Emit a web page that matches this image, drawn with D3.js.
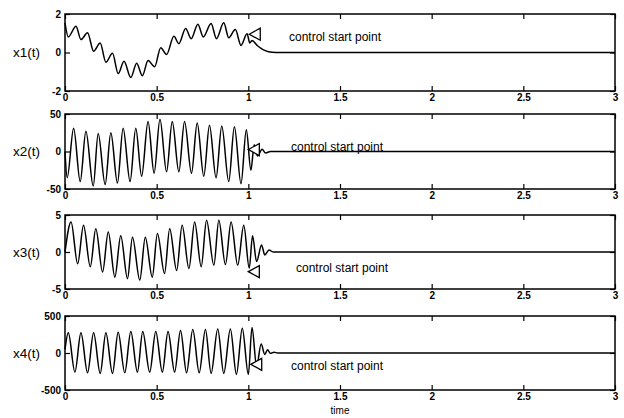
<!DOCTYPE html>
<html>
<head>
<meta charset="utf-8">
<script src="https://cdn.jsdelivr.net/npm/d3@7"></script>
<style>
  body { margin: 0; background: #fff; }
  text { font-family: Arial, "Liberation Sans", sans-serif; fill: #000; }
</style>
</head>
<body>
<svg id="chart" width="624" height="418"></svg>
<script>
// extrema, [time, value]
const x1 = [[0,1.54],[0.018,0.81],[0.060,1.37],[0.087,0.67],[0.123,1.02],[0.156,0.07],[0.192,0.49],
  [0.223,-0.51],[0.259,-0.04],[0.290,-1.09],[0.322,-0.46],[0.359,-1.30],[0.391,-0.56],[0.422,-1.21],
  [0.453,-0.42],[0.489,-0.74],[0.522,0.25],[0.554,-0.10],[0.594,0.84],[0.621,0.46],[0.658,1.25],
  [0.688,0.72],[0.725,1.47],[0.754,0.81],[0.797,1.51],[0.826,0.72],[0.866,1.54],[0.893,0.77],
  [0.929,1.19],[0.960,0.37],[0.993,0.98],[1.008,0.5],[1.02,0.62],[1.05,0.35],[1.08,0.15],
  [1.11,0.04],[1.15,0],[3,0]];

const x2 = [[0,0],[0.012,-35],[0.047,31],[0.083,-40],[0.114,27],[0.154,-46],[0.181,24],[0.219,-44],
  [0.250,25],[0.286,-42],[0.317,31],[0.355,-40],[0.386,31],[0.418,-33],[0.453,40],[0.486,-29],
  [0.518,43],[0.554,-27],[0.585,40],[0.621,-27],[0.652,40],[0.690,-29],[0.721,38],[0.757,-33],
  [0.788,35],[0.824,-35],[0.855,34],[0.893,-40],[0.924,33],[0.960,-43],[0.989,29],[1.014,-25],
  [1.032,9],[1.05,-6],[1.075,3],[1.094,-2],[1.12,0],[3,0]];

const x3 = [[0,0],[0.033,4.05],[0.069,-1.6],[0.101,3.6],[0.138,-2.0],[0.168,3.15],[0.205,-2.7],
  [0.236,2.7],[0.272,-3.4],[0.304,2.2],[0.341,-3.6],[0.368,2.0],[0.408,-3.8],[0.438,2.0],
  [0.476,-3.4],[0.504,2.5],[0.543,-2.9],[0.571,3.15],[0.609,-2.5],[0.639,3.6],[0.676,-2.25],
  [0.707,4.05],[0.743,-2.0],[0.772,4.3],[0.812,-1.8],[0.839,4.3],[0.875,-1.7],[0.906,4.05],
  [0.942,-1.8],[0.975,3.6],[1.005,-2.2],[1.023,2.2],[1.045,-1.3],[1.072,0.95],[1.09,-0.4],
  [1.113,0.27],[1.135,0],[3,0]];

const x4 = [[0,50],[0.018,272],[0.054,-258],[0.087,272],[0.123,-267],[0.156,272],[0.192,-276],
  [0.223,272],[0.259,-276],[0.290,281],[0.326,-267],[0.359,290],[0.395,-258],[0.424,290],
  [0.462,-258],[0.495,290],[0.531,-258],[0.562,290],[0.598,-258],[0.630,304],[0.663,-267],
  [0.697,317],[0.732,-267],[0.766,317],[0.797,-276],[0.833,326],[0.866,-276],[0.902,326],
  [0.935,-290],[0.967,336],[1.0,-290],[1.02,345],[1.045,-180],[1.07,120],[1.09,-20],
  [1.105,45],[1.12,-5],[1.14,10],[1.16,0],[3,0]];

const timeTicks = [0, 0.5, 1, 1.5, 2, 2.5, 3];
const noteText = 'control start point';

const panels = [
  { name: 'x1(t)', data: x1, domain: [-2, 2], ticks: [-2, 0, 2], top: 14, h: 77, mark: [1.005, 0.95], note: [289, 37] },
  { name: 'x2(t)', data: x2, domain: [-50, 50], ticks: [-50, 0, 50], top: 114, h: 75, mark: [1.0, 2.6], note: [291, 147] },
  { name: 'x3(t)', data: x3, domain: [-5, 5], ticks: [-5, 0, 5], top: 215, h: 74, mark: [1.0, -2.66], note: [296, 268] },
  { name: 'x4(t)', data: x4, domain: [-500, 500], ticks: [-500, 0, 500], top: 316, h: 74, mark: [1.013, -153], note: [291, 366] }
];

const svg = d3.select('#chart');
const x = d3.scaleLinear().domain([0, 3]).range([65, 615]);
const fmt = d => String(d);

panels.forEach(p => {
  const y = d3.scaleLinear().domain(p.domain).range([p.top + p.h, p.top]);
  const g = svg.append('g');

  // bottom axis with labels
  g.append('g')
    .attr('transform', `translate(0,${p.top + p.h})`)
    .call(d3.axisBottom(x).tickValues(timeTicks).tickSizeInner(-5).tickSizeOuter(0).tickPadding(3).tickFormat(fmt));
  // top axis, ticks only
  g.append('g')
    .attr('transform', `translate(0,${p.top})`)
    .call(d3.axisTop(x).tickValues(timeTicks).tickSizeInner(-5).tickSizeOuter(0).tickFormat(''));
  // left axis
  g.append('g')
    .attr('transform', `translate(${x(0)},0)`)
    .call(d3.axisLeft(y).tickValues(p.ticks).tickSizeInner(-5).tickSizeOuter(0).tickPadding(4).tickFormat(fmt));
  // right axis, ticks only
  g.append('g')
    .attr('transform', `translate(${x(3)},0)`)
    .call(d3.axisRight(y).tickValues(p.ticks).tickSizeInner(-5).tickSizeOuter(0).tickFormat(''));

  g.selectAll('.domain').remove();
  g.selectAll('.tick line').attr('stroke', '#000').attr('stroke-width', 1.2);
  g.selectAll('.tick text').attr('font-size', 10).attr('font-weight', 'bold').attr('fill', '#000');

  g.append('rect')
    .attr('x', x(0)).attr('y', p.top)
    .attr('width', x(3) - x(0)).attr('height', p.h)
    .attr('fill', 'none').attr('stroke', '#000').attr('stroke-width', 1.5);

  const line = d3.line()
    .x(d => x(d[0]))
    .y(d => y(d[1]))
    .curve(d3.curveMonotoneX);

  g.append('path')
    .datum(p.data)
    .attr('d', line)
    .attr('fill', 'none')
    .attr('stroke', '#000')
    .attr('stroke-width', 1.5);

  // triangle marker pointing at the control start
  const tx = x(p.mark[0]), ty = y(p.mark[1]);
  g.append('path')
    .attr('d', `M${tx},${ty}L${tx + 11},${ty - 6}L${tx + 11},${ty + 6}Z`)
    .attr('fill', '#fff')
    .attr('stroke', '#000')
    .attr('stroke-width', 1.3);

  g.append('text')
    .attr('x', p.note[0]).attr('y', p.note[1])
    .attr('dy', '0.35em')
    .attr('font-size', 12)
    .text(noteText);

  g.append('text')
    .attr('x', 13).attr('y', p.top + p.h / 2)
    .attr('dy', '0.35em')
    .attr('font-size', 13.5)
    .text(p.name);
});

svg.append('text')
  .attr('x', x(1.5)).attr('y', 414)
  .attr('text-anchor', 'middle')
  .attr('font-size', 10)
  .text('time');
</script>
</body>
</html>
